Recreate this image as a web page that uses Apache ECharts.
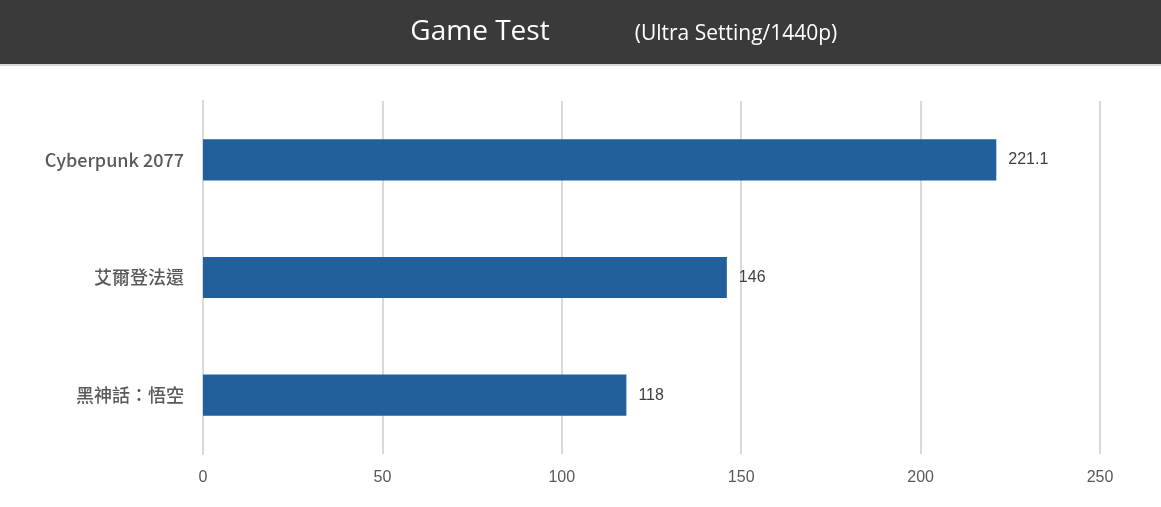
<!DOCTYPE html>
<html><head><meta charset="utf-8">
<script src="https://cdn.jsdelivr.net/npm/echarts@6/dist/echarts.min.js"></script>
<style>html,body{margin:0;padding:0;background:#fff}#c{width:1161px;height:507px}</style>
</head><body><div id="c"></div>
<script>
const categories = ['Cyberpunk 2077', '艾爾登法還', '黑神話：悟空'];
const fps = [221.1, 146, 118];
const xTicks = [0, 50, 100, 150, 200, 250];
const titleText = 'Game Test';
const subtitleText = '(Ultra Setting/1440p)';

const chart = echarts.init(document.getElementById('c'), null, {renderer: 'canvas'});
chart.setOption({
  backgroundColor: '#ffffff',
  animation: false,
  graphic: [
    {type: 'rect', left: 0, top: 0, shape: {width: 1161, height: 64}, style: {fill: '#3a3a3a'}, z: 0},
    {type: 'rect', left: 0, top: 64, shape: {width: 1161, height: 2}, style: {fill: '#d6d6d6'}, z: 0},
    {type: 'text', x: 480, y: 32, style: {text: titleText, fill: '#ffffff', font: '28px "Open Sans", "Noto Sans", sans-serif', textAlign: 'center', textVerticalAlign: 'middle'}, z: 1},
    {type: 'text', x: 736, y: 34, style: {text: subtitleText, fill: '#ffffff', font: '21px "Open Sans", "Noto Sans", sans-serif', textAlign: 'center', textVerticalAlign: 'middle'}, z: 1}
  ],
  grid: {left: 203, right: 61, top: 101, bottom: 53, containLabel: false},
  xAxis: {
    type: 'value', min: xTicks[0], max: xTicks[xTicks.length - 1], interval: 50,
    axisLine: {show: false}, axisTick: {show: false},
    splitLine: {show: true, lineStyle: {color: '#d9d9d9', width: 2}},
    axisLabel: {color: '#595959', fontSize: 16, fontFamily: '"Liberation Sans", Arial, sans-serif', margin: 16}
  },
  yAxis: {
    type: 'category', data: categories, inverse: true,
    axisLine: {show: true, lineStyle: {color: '#d9d9d9', width: 2}},
    axisTick: {show: false},
    axisLabel: {color: '#595959', fontSize: 18, fontWeight: 500, fontFamily: '"Noto Sans CJK TC", "Noto Sans", sans-serif', margin: 19}
  },
  series: [{
    type: 'bar', data: fps, barWidth: '35%',
    itemStyle: {color: '#21609b'},
    label: {show: true, position: 'right', distance: 12, color: '#404040', fontSize: 16, fontFamily: '"Liberation Sans", Arial, sans-serif'}
  }]
});
</script></body></html>
